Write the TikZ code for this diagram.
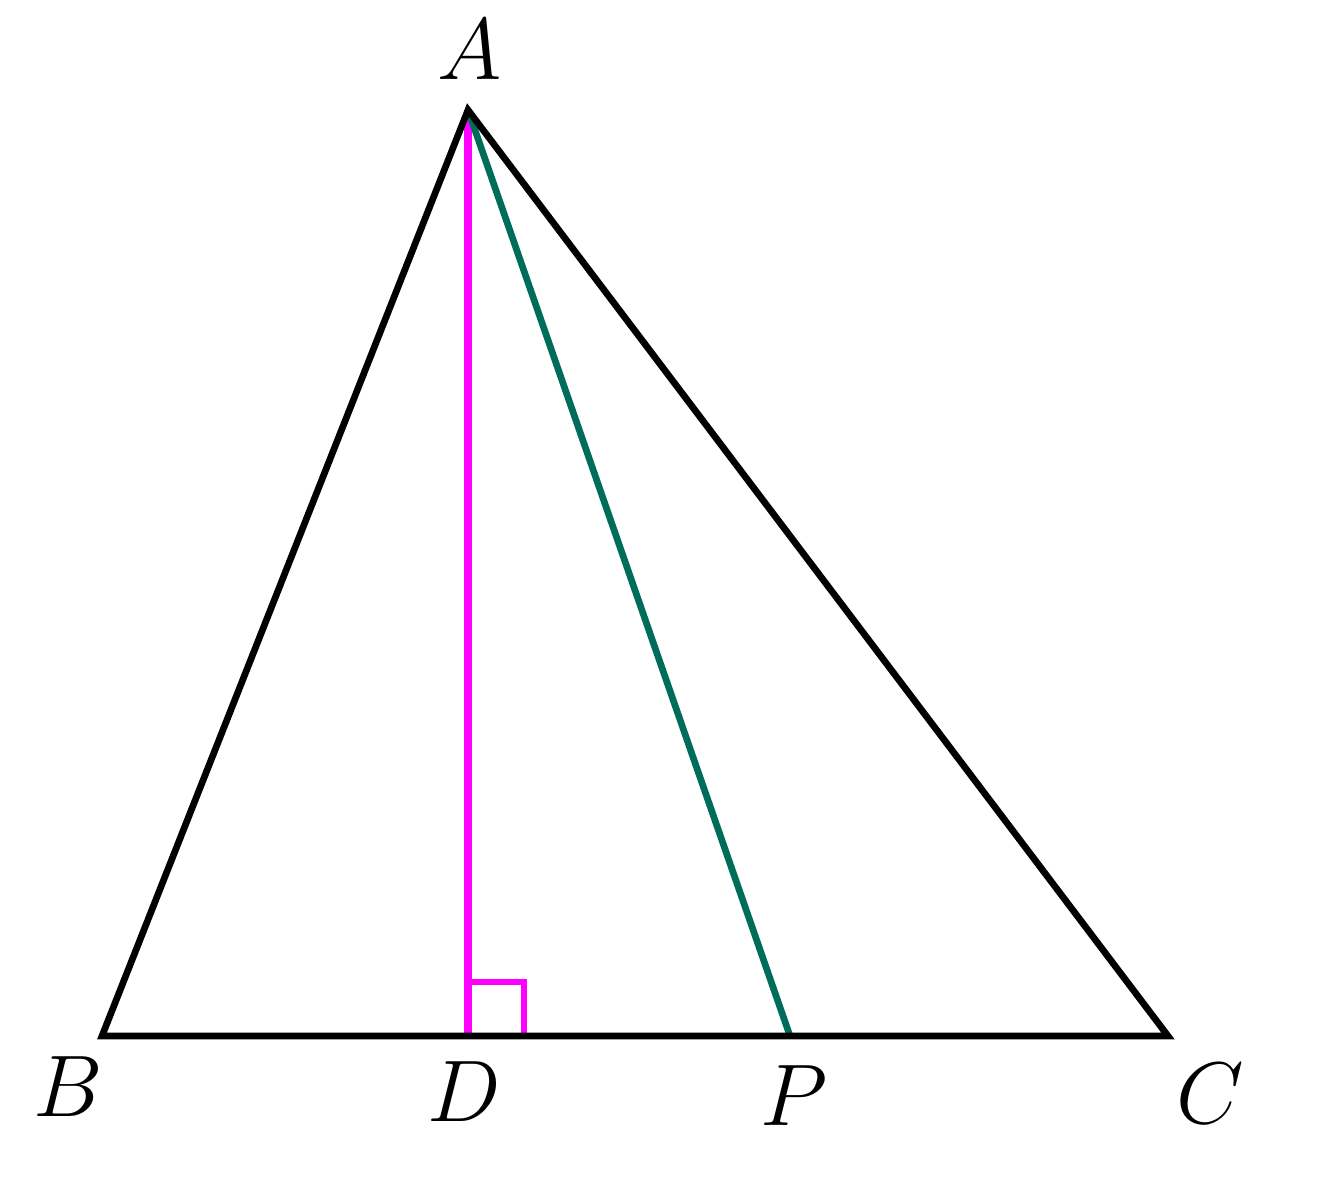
\documentclass[tikz,border=0pt]{standalone}
\definecolor{tealg}{RGB}{0,108,90}
\definecolor{mag}{RGB}{255,0,255}
\begin{document}
\begin{tikzpicture}[x=0.01cm,y=-0.01cm,
  edge/.style={line width=1.9pt,black,line join=miter},
  lbl/.style={font=\fontsize{27.5}{32}\selectfont,inner sep=0pt}]
\useasboundingbox (0,0) rectangle (1333,1180);
\coordinate (A) at (468,110);
\coordinate (B) at (102,1036);
\coordinate (C) at (1168,1036);
\coordinate (D) at (468,1036);
\coordinate (P) at (790,1036);
\draw[mag,line width=2.1pt] (A) -- (D);
\draw[mag,line width=1.9pt] (D) ++(0,-54) -- ++(56,0) -- ++(0,54);
\draw[tealg,line width=1.9pt] (A) -- (P);
\draw[edge] (A) -- (B) -- (C) -- cycle;
\node[lbl] (lA) at (470,50) {$A$};
\node[lbl] (lB) at (68,1087) {$B$};
\node[lbl] (lD) at (464,1092) {$D$};
\node[lbl] (lP) at (794,1096) {$P$};
\node[lbl] (lC) at (1210,1094) {$C$};
\end{tikzpicture}
\end{document}
